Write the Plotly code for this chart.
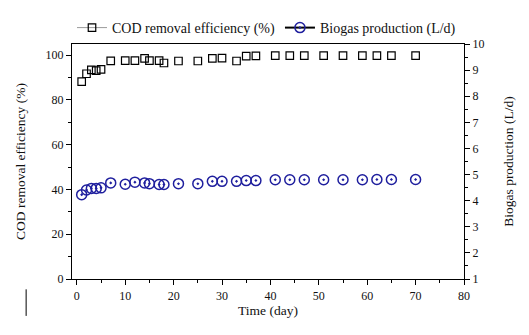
import plotly.graph_objects as go

# Operating days of the reactor
days = [1, 2, 3, 4, 5, 7, 10, 12, 14, 15, 17, 18, 21, 25, 28, 30, 33, 35, 37,
        41, 44, 47, 51, 55, 59, 62, 65, 70]

# COD removal efficiency (%)
cod_removal = [88.2, 91.7, 93.4, 93.1, 93.7, 97.5, 97.6, 97.6, 98.6, 97.6, 97.6,
               96.5, 97.4, 97.4, 98.6, 98.7, 97.4, 99.6, 99.7,
               99.8, 99.8, 99.8, 99.8, 99.8, 99.8, 99.8, 99.8, 99.8]

# Biogas production (L/d)
biogas = [4.23, 4.41, 4.47, 4.47, 4.49, 4.68, 4.63, 4.71, 4.68, 4.65, 4.62,
          4.62, 4.65, 4.65, 4.74, 4.74, 4.74, 4.77, 4.77,
          4.80, 4.80, 4.80, 4.80, 4.80, 4.80, 4.81, 4.81, 4.81]

x_ticks = [0, 10, 20, 30, 40, 50, 60, 70, 80]
left_ticks = [0, 20, 40, 60, 80, 100]
right_ticks = [1, 2, 3, 4, 5, 6, 7, 8, 9, 10]

FONT = "Liberation Serif, Times New Roman, serif"
NAVY = "#1f1f9e"
TEXT = "#111"

fig = go.Figure()

fig.add_trace(go.Scatter(
    x=days, y=cod_removal, mode="markers", showlegend=False,
    marker=dict(symbol="square-open", size=7.5, color="black", line=dict(width=1.2)),
    yaxis="y"))
fig.add_trace(go.Scatter(
    x=days, y=biogas, mode="markers", showlegend=False,
    marker=dict(symbol="circle-open-dot", size=10, color=NAVY, line=dict(width=1.5)),
    yaxis="y2"))

# legend entries
fig.add_trace(go.Scatter(
    x=[None], y=[None], mode="lines+markers", name="COD removal efficiency (%)",
    line=dict(color="#9a9a9a", width=1),
    marker=dict(symbol="square-open", size=7.5, color="black", line=dict(width=1.2))))
fig.add_trace(go.Scatter(
    x=[None], y=[None], mode="lines+markers", name="Biogas production (L/d)",
    line=dict(color="black", width=2),
    marker=dict(symbol="circle-open-dot", size=10, color=NAVY, line=dict(width=1.5))))

axis_common = dict(
    showgrid=False, zeroline=False, showline=True, linecolor="black", linewidth=1.2,
    ticks="outside", ticklen=5, tickwidth=1, tickcolor="black",
    tickfont=dict(family=FONT, size=12, color=TEXT),
)

fig.update_layout(
    width=529, height=335,
    margin=dict(l=72, r=65, t=31, b=56),
    paper_bgcolor="white", plot_bgcolor="white",
    font=dict(family=FONT, color=TEXT),
    xaxis=dict(
        range=[-1, 80], tickvals=x_ticks, mirror=True,
        minor=dict(tickvals=[5, 15, 25, 35, 45, 55, 65, 75], ticks="outside",
                   ticklen=3, tickcolor="black"),
        title=dict(text="Time (day)", font=dict(family=FONT, size=13.5, color=TEXT),
                   standoff=4),
        **axis_common),
    yaxis=dict(
        range=[0, 105], tickvals=left_ticks,
        minor=dict(tickvals=[10, 30, 50, 70, 90], ticks="outside",
                   ticklen=3, tickcolor="black"),
        title=dict(text="COD removal efficiency (%)",
                   font=dict(family=FONT, size=13.5, color=TEXT), standoff=16),
        **axis_common),
    yaxis2=dict(
        range=[1, 10], tickvals=right_ticks, overlaying="y", side="right",
        minor=dict(tickvals=[1.5, 2.5, 3.5, 4.5, 5.5, 6.5, 7.5, 8.5, 9.5],
                   ticks="outside", ticklen=3, tickcolor="black"),
        title=dict(text="Biogas production (L/d)",
                   font=dict(family=FONT, size=13.5, color=TEXT), standoff=20),
        **axis_common),
    legend=dict(
        orientation="h", x=0.0, xanchor="left", y=1.0, yanchor="bottom",
        font=dict(family=FONT, size=14, color=TEXT),
        bgcolor="rgba(0,0,0,0)", itemwidth=30, tracegroupgap=0),
    shapes=[dict(type="line", xref="paper", yref="paper",
                 x0=-0.117, x1=-0.117, y0=-0.044, y1=-0.157,
                 line=dict(color="black", width=1))],
)

fig.write_html("out.html")
